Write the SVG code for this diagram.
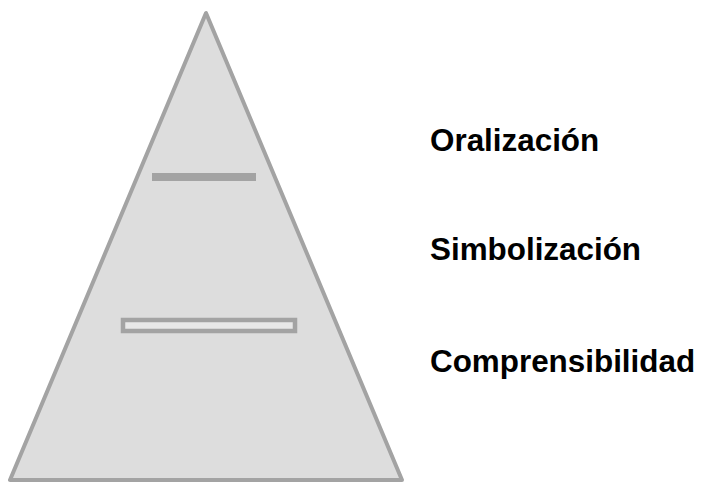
<svg xmlns="http://www.w3.org/2000/svg" width="703" height="483" viewBox="0 0 703 483">
<style>
.lbl{font-family:"Liberation Sans",Arial,sans-serif;font-weight:bold;font-size:31.4px;fill:#000}
</style>
<rect width="703" height="483" fill="#fff"/>
<g id="pyramid">
<polygon points="206,13 10,480 402,480" fill="#dddddd" stroke="#a3a3a3" stroke-width="4" stroke-linejoin="round"/>
</g>
<g id="bar-top">
<rect x="152" y="173" width="104" height="8" fill="#a3a3a3"/>
</g>
<g id="bar-bottom">
<rect x="123" y="320" width="172" height="11" fill="#e8e8e8" stroke="#a3a3a3" stroke-width="4.5"/>
</g>
<g id="labels">
<text class="lbl" x="430" y="151">Oralización</text>
<text class="lbl" x="430" y="260">Simbolización</text>
<text class="lbl" x="430" y="372">Comprensibilidad</text>
</g>
</svg>
